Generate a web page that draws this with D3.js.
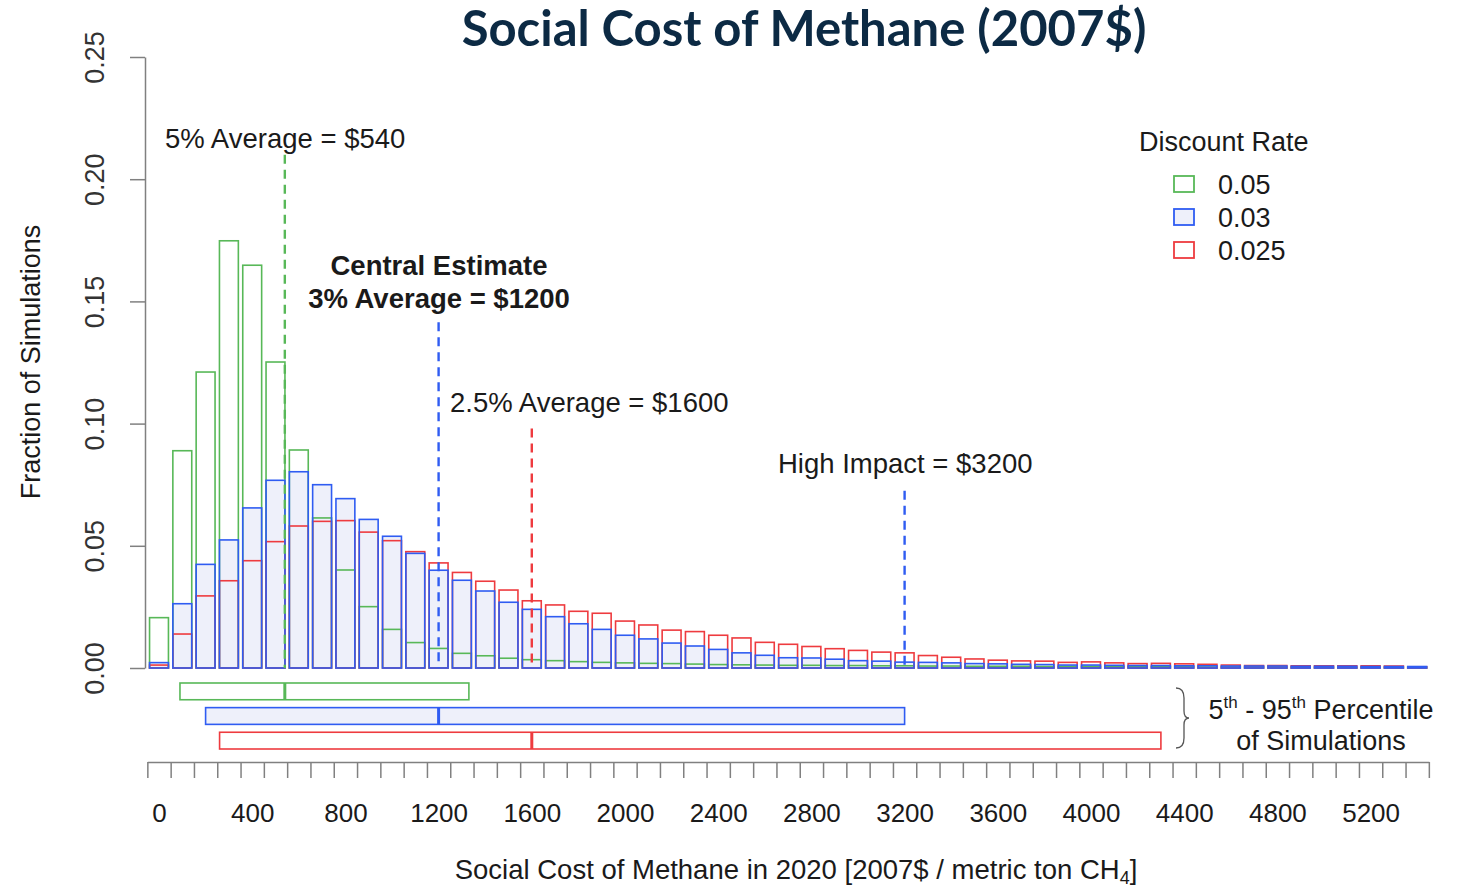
<!DOCTYPE html>
<html>
<head>
<meta charset="utf-8">
<script src="https://cdn.jsdelivr.net/npm/d3@7"></script>
<style>
  body { margin: 0; background: #fff; }
  text { font-family: "Liberation Sans", Arial, sans-serif; fill: #1a1a1a; }
</style>
</head>
<body>
<div id="chart"></div>
<script>
// histogram bins (bin centres, $ per ton)
const bins = [0, 100, 200, 300, 400, 500, 600, 700, 800, 900,
  1000, 1100, 1200, 1300, 1400, 1500, 1600, 1700, 1800, 1900,
  2000, 2100, 2200, 2300, 2400, 2500, 2600, 2700, 2800, 2900,
  3000, 3100, 3200, 3300, 3400, 3500, 3600, 3700, 3800, 3900,
  4000, 4100, 4200, 4300, 4400, 4500, 4600, 4700, 4800, 4900,
  5000, 5100, 5200, 5300, 5400];

// fraction of simulations, 5% discount rate
const rate05 = [0.0206, 0.0889, 0.1211, 0.1748, 0.1648, 0.1252, 0.0892, 0.0614, 0.0401, 0.0251,
  0.0158, 0.0104, 0.0080, 0.0060, 0.0050, 0.0040, 0.0034, 0.0030, 0.0026, 0.0023,
  0.0021, 0.0019, 0.0018, 0.0016, 0.0014, 0.0013, 0.0012, 0.0011, 0.0011, 0.0010,
  0.0010, 0.0009, 0.0009, 0.0008, 0.0008, 0.0007, 0.0007, 0.0007, 0.0006, 0.0006,
  0.0006, 0.0005, 0.0005, 0.0005, 0.0005, 0.0004, 0.0004, 0.0004, 0.0004, 0.0004,
  0.0003, 0.0003, 0.0003, 0.0003, 0.0003];

// 3% discount rate
const rate03 = [0.0022, 0.0263, 0.0424, 0.0524, 0.0655, 0.0768, 0.0803, 0.0750, 0.0693, 0.0608,
  0.0539, 0.0469, 0.0400, 0.0359, 0.0315, 0.0269, 0.0240, 0.0210, 0.0181, 0.0158,
  0.0134, 0.0119, 0.0102, 0.0090, 0.0076, 0.0062, 0.0052, 0.0042, 0.0041, 0.0036,
  0.0030, 0.0028, 0.0024, 0.0023, 0.0021, 0.0018, 0.0017, 0.0015, 0.0014, 0.0012,
  0.0012, 0.0011, 0.0010, 0.0010, 0.0009, 0.0009, 0.0008, 0.0008, 0.0008, 0.0007,
  0.0007, 0.0007, 0.0006, 0.0006, 0.0006];

// 2.5% discount rate
const rate025 = [0.0012, 0.0139, 0.0295, 0.0357, 0.0439, 0.0517, 0.0581, 0.0600, 0.0603, 0.0556,
  0.0521, 0.0476, 0.0430, 0.0391, 0.0355, 0.0319, 0.0275, 0.0258, 0.0232, 0.0224,
  0.0192, 0.0176, 0.0155, 0.0149, 0.0134, 0.0123, 0.0105, 0.0097, 0.0088, 0.0079,
  0.0072, 0.0065, 0.0062, 0.0051, 0.0044, 0.0037, 0.0032, 0.0029, 0.0028, 0.0023,
  0.0025, 0.0021, 0.0018, 0.0019, 0.0017, 0.0015, 0.0012, 0.0010, 0.0010, 0.0009,
  0.0009, 0.0009, 0.0009, 0.0008, 0.0005];

// 5th-95th percentile ranges and averages, order: 0.05, 0.03, 0.025
const rates = ["0.05", "0.03", "0.025"];
const pctLow = [90, 200, 260];
const pctHigh = [1330, 3200, 4300];
const pctMid = [540, 1200, 1600];

// average lines: value, top of line (fraction)
const avgValues = [540, 1200, 1600, 3200];
const avgTops = [0.21, 0.1415, 0.098, 0.0725];

const xLabels = [0, 400, 800, 1200, 1600, 2000, 2400, 2800, 3200, 3600, 4000, 4400, 4800, 5200];
const yTicks = [0, 0.05, 0.10, 0.15, 0.20, 0.25];

const green = "#58b858", blue = "#2f5cf2", red = "#ee3b3f", lav = "#eef0fa";
const colors = [green, blue, red];

const W = 1466, H = 888;
const svg = d3.select("#chart").append("svg").attr("width", W).attr("height", H);

const x = d3.scaleLinear().domain([-50, 5450]).range([147.35, 1428.85]);
const y = d3.scaleLinear().domain([0, 0.25]).range([668, 57]);

// title
svg.append("text")
  .attr("x", 804).attr("y", 46)
  .attr("text-anchor", "middle")
  .style("font-family", "Lato, 'Open Sans', sans-serif")
  .style("font-weight", "700")
  .style("font-size", "49px")
  .style("fill", "#0c2a44")
  .text("Social Cost of Methane (2007$)");

// y axis
const yAxis = svg.append("g")
  .attr("transform", "translate(145,0)")
  .call(d3.axisLeft(y).tickValues(yTicks).tickFormat(d3.format(".2f")).tickSize(15).tickSizeOuter(0));
yAxis.selectAll("path, line").attr("stroke", "#808080").attr("stroke-width", 1.5);
yAxis.selectAll("text")
  .attr("transform", "rotate(-90)")
  .attr("x", 0).attr("y", -41).attr("dy", 0)
  .attr("text-anchor", "middle")
  .style("font-size", "27px")
  .style("fill", "#333");

svg.append("text")
  .attr("transform", "translate(40,362) rotate(-90)")
  .attr("text-anchor", "middle")
  .style("font-size", "27px")
  .text("Fraction of Simulations");

// histogram bars
const barX = d => x(d - 50) + 2.2;
const barW = x(50) - x(-50) - 4.4;
const bars = svg.append("g");

function drawBars(vals, fill, stroke) {
  bars.append("g").selectAll("rect")
    .data(bins.map((b, i) => ({b: b, v: vals[i]})))
    .enter().append("rect")
    .attr("x", d => barX(d.b))
    .attr("y", d => y(d.v))
    .attr("width", barW)
    .attr("height", d => y(0) - y(d.v))
    .attr("fill", fill)
    .attr("stroke", stroke)
    .attr("stroke-width", 1.6);
}
drawBars(rate03, lav, "none");
drawBars(rate05, "none", green);
drawBars(rate025, "none", red);
drawBars(rate03, "none", blue);

// average lines
const avgColors = [green, blue, red, blue];
svg.append("g").selectAll("line")
  .data(avgValues)
  .enter().append("line")
  .attr("x1", d => x(d)).attr("x2", d => x(d))
  .attr("y1", (d, i) => y(avgTops[i])).attr("y2", y(0))
  .attr("stroke", (d, i) => avgColors[i])
  .attr("stroke-width", 2.4)
  .attr("stroke-dasharray", "9,6");

// annotations
const fs = "27.5px";
svg.append("text").attr("x", 165).attr("y", 148).style("font-size", fs).text("5% Average = $540");
svg.append("text").attr("x", 439).attr("y", 275).attr("text-anchor", "middle")
  .style("font-size", fs).style("font-weight", "700").text("Central Estimate");
svg.append("text").attr("x", 439).attr("y", 308).attr("text-anchor", "middle")
  .style("font-size", fs).style("font-weight", "700").text("3% Average = $1200");
svg.append("text").attr("x", 450).attr("y", 412).style("font-size", fs).text("2.5% Average = $1600");
svg.append("text").attr("x", 778).attr("y", 473).style("font-size", fs).text("High Impact = $3200");

// legend
const leg = svg.append("g");
leg.append("text").attr("x", 1139).attr("y", 151).style("font-size", "27px").text("Discount Rate");
const legFill = ["#fff", lav, "#fff"];
rates.forEach((r, i) => {
  leg.append("rect")
    .attr("x", 1174).attr("y", 176 + i * 33)
    .attr("width", 20).attr("height", 16)
    .attr("fill", legFill[i]).attr("stroke", colors[i]).attr("stroke-width", 1.8);
  leg.append("text")
    .attr("x", 1218).attr("y", 194 + i * 33)
    .style("font-size", "27px").text(r);
});

// percentile boxes
const rowY = d3.scaleBand().domain(rates).range([683, 749]).paddingInner(0.32);
const pg = svg.append("g");
rates.forEach((r, i) => {
  pg.append("rect")
    .attr("x", x(pctLow[i])).attr("y", rowY(r))
    .attr("width", x(pctHigh[i]) - x(pctLow[i])).attr("height", rowY.bandwidth())
    .attr("fill", i === 1 ? lav : "#fff")
    .attr("stroke", colors[i]).attr("stroke-width", 1.6);
  pg.append("line")
    .attr("x1", x(pctMid[i])).attr("x2", x(pctMid[i]))
    .attr("y1", rowY(r)).attr("y2", rowY(r) + rowY.bandwidth())
    .attr("stroke", colors[i]).attr("stroke-width", 3);
});

// brace + label
svg.append("path")
  .attr("d", "M1176,688 Q1184,688 1184,698 L1184,711 Q1184,718 1189,718 Q1184,718 1184,725 L1184,738 Q1184,748 1176,748")
  .attr("fill", "none").attr("stroke", "#555").attr("stroke-width", 1.3);
const pl = svg.append("text").attr("x", 1321).attr("y", 719).attr("text-anchor", "middle").style("font-size", "27px");
pl.append("tspan").text("5");
pl.append("tspan").attr("dy", -11).style("font-size", "17px").text("th");
pl.append("tspan").attr("dy", 11).text(" - 95");
pl.append("tspan").attr("dy", -11).style("font-size", "17px").text("th");
pl.append("tspan").attr("dy", 11).text(" Percentile");
svg.append("text").attr("x", 1321).attr("y", 750).attr("text-anchor", "middle")
  .style("font-size", "27px").text("of Simulations");

// bottom axis: ticks at bin edges, labels at bin centres
const edges = d3.range(-50, 5451, 100);
const xAxis = svg.append("g")
  .attr("transform", "translate(0,762)")
  .call(d3.axisBottom(x).tickValues(edges).tickFormat("").tickSize(16).tickSizeOuter(0));
xAxis.selectAll("path, line").attr("stroke", "#808080").attr("stroke-width", 1.5);

const xLab = svg.append("g")
  .attr("transform", "translate(0,762)")
  .call(d3.axisBottom(x).tickValues(xLabels).tickFormat(d3.format("d")).tickSize(0).tickPadding(42));
xLab.select(".domain").remove();
xLab.selectAll("text").style("font-size", "26px").style("fill", "#1a1a1a").style("font-family", "'Liberation Sans', Arial, sans-serif");

const xt = svg.append("text").attr("x", 796).attr("y", 879).attr("text-anchor", "middle").style("font-size", "27.5px");
xt.append("tspan").text("Social Cost of Methane in 2020 [2007$ / metric ton CH");
xt.append("tspan").attr("dy", 5).style("font-size", "18px").text("4");
xt.append("tspan").attr("dy", -5).text("]");
</script>
</body>
</html>
